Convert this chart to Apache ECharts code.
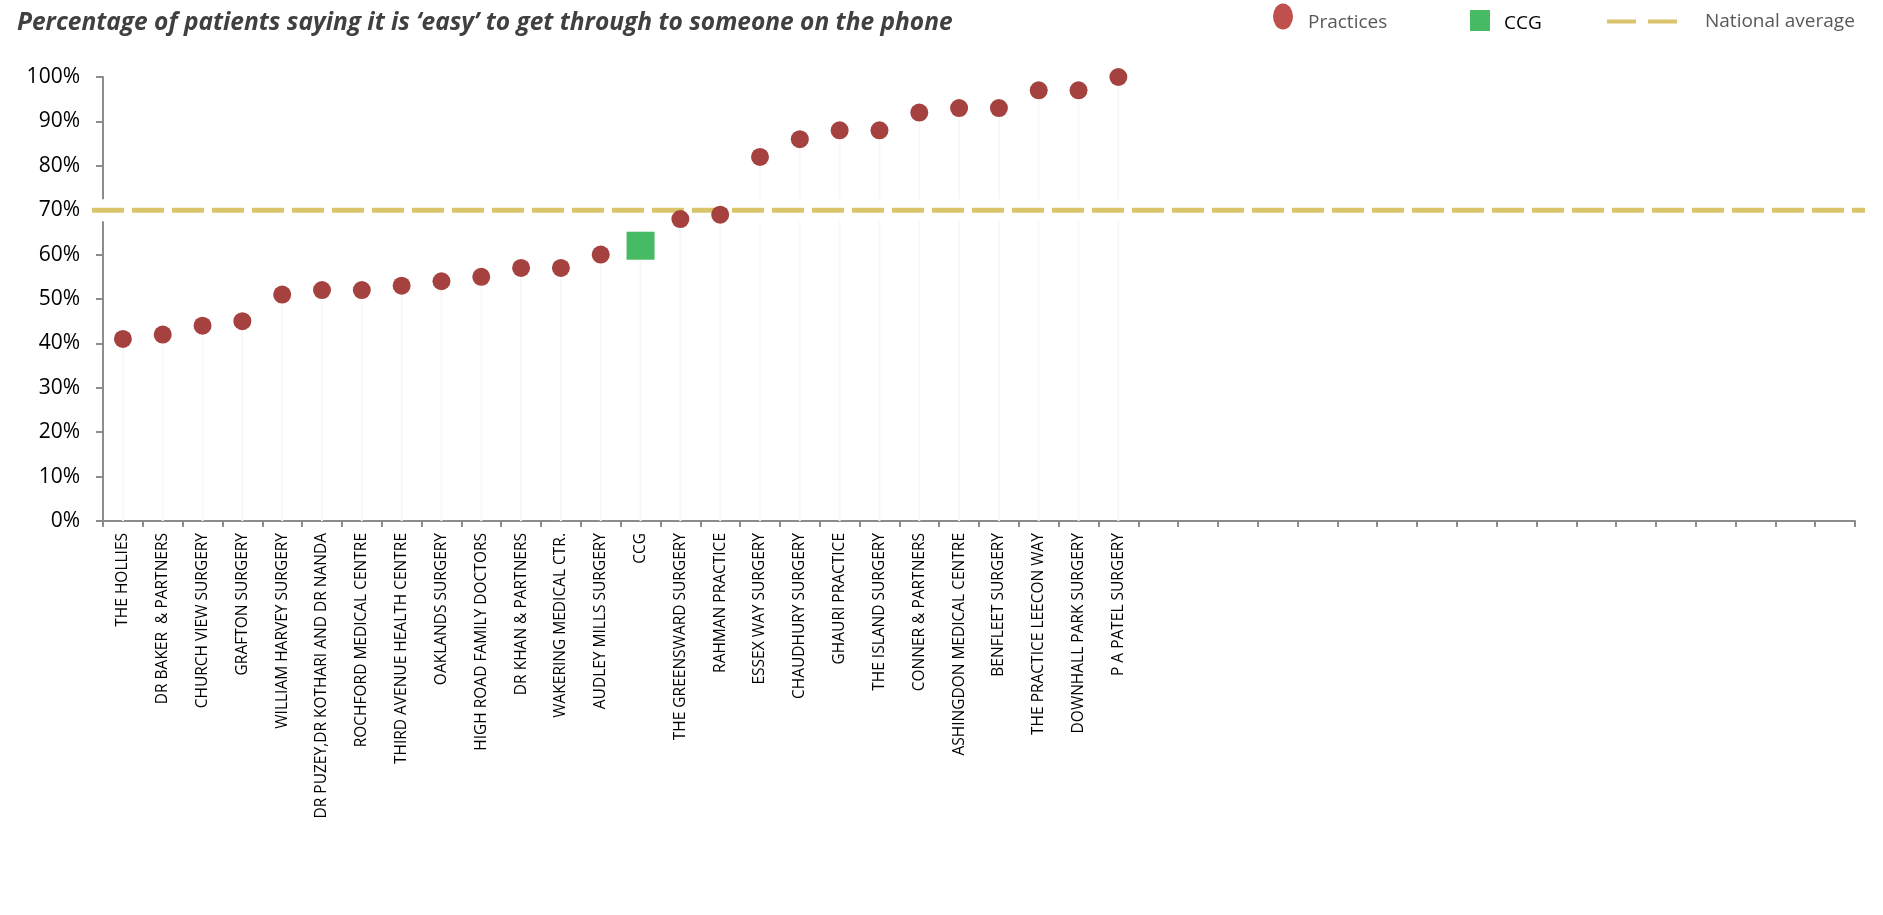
<!DOCTYPE html>
<html>
<head>
<meta charset="utf-8">
<script src="https://cdn.jsdelivr.net/npm/echarts@6/dist/echarts.min.js"></script>
<style>
  html, body { margin: 0; padding: 0; background: #fff; }
  #chart { width: 1883px; height: 915px; }
</style>
</head>
<body>
<div id="chart"></div>
<script>
const titleText = "Percentage of patients saying it is \u2018easy\u2019 to get through to someone on the phone";
const categories = [
  "THE HOLLIES", "DR BAKER  & PARTNERS", "CHURCH VIEW SURGERY", "GRAFTON SURGERY",
  "WILLIAM HARVEY SURGERY", "DR PUZEY,DR KOTHARI AND DR NANDA", "ROCHFORD MEDICAL CENTRE",
  "THIRD AVENUE HEALTH CENTRE", "OAKLANDS SURGERY", "HIGH ROAD FAMILY DOCTORS",
  "DR KHAN & PARTNERS", "WAKERING MEDICAL CTR.", "AUDLEY MILLS SURGERY", "CCG",
  "THE GREENSWARD SURGERY", "RAHMAN PRACTICE", "ESSEX WAY SURGERY", "CHAUDHURY SURGERY",
  "GHAURI PRACTICE", "THE ISLAND SURGERY", "CONNER & PARTNERS", "ASHINGDON MEDICAL CENTRE",
  "BENFLEET SURGERY", "THE PRACTICE LEECON WAY", "DOWNHALL PARK SURGERY", "P A PATEL SURGERY"
];
const values = [41, 42, 44, 45, 51, 52, 52, 53, 54, 55, 57, 57, 60, 62, 68, 69, 82, 86, 88, 88, 92, 93, 93, 97, 97, 100];
const ccgCategory = "CCG";
const emptySlots = 18;
const nationalAverage = 70;
const yTicks = { min: 0, max: 100, interval: 10 };

const allCats = categories.concat(Array.from({ length: emptySlots }, () => ""));
const practiceData = allCats.map((c, i) => (i < values.length && c !== ccgCategory) ? values[i] : null);
const ccgData = allCats.map((c, i) => (c === ccgCategory) ? values[i] : null);
const stemData = allCats.map((c, i) => i < values.length ? values[i] : null);

const FONT = "'Open Sans', 'Noto Sans', sans-serif";
const chart = echarts.init(document.getElementById('chart'), null, { renderer: 'canvas' });
const ellipsePath = 'path://M0,50 A50,50 0 1,1 100,50 A50,50 0 1,1 0,50 Z';
const dashIconPath = 'path://M0,0 H29 V4 H0 Z M41,0 H70 V4 H41 Z';

chart.setOption({
  backgroundColor: '#ffffff',
  animation: false,
  title: {
    text: titleText,
    left: 12,
    top: 6,
    textStyle: { fontFamily: FONT, fontSize: 24.5, fontWeight: 'bold', fontStyle: 'italic', color: '#404040' }
  },
  legend: [
    {
      data: [{ name: 'Practices', icon: ellipsePath, itemStyle: { color: '#C0504D' } }],
      left: 1273, top: 3.5, itemWidth: 20, itemHeight: 26, symbolKeepAspect: false, padding: 0,
      selectedMode: false,
      formatter: '{t|{name}}',
      textStyle: {
        rich: { t: { fontFamily: FONT, fontSize: 19, color: '#595959', lineHeight: 32, verticalAlign: 'bottom', padding: [0, 0, 0, 10] } }
      }
    },
    {
      data: [{ name: 'CCG', icon: 'rect', itemStyle: { color: '#46BB64' } }],
      left: 1470, top: 10, itemWidth: 20, itemHeight: 21, padding: 0, selectedMode: false,
      formatter: '{t|{name}}',
      textStyle: {
        rich: { t: { fontFamily: FONT, fontSize: 19, color: '#000000', lineHeight: 26, verticalAlign: 'bottom', padding: [0, 0, 0, 9] } }
      }
    },
    {
      data: [{ name: 'National average', icon: dashIconPath, itemStyle: { color: '#D9C46C' } }],
      left: 1607, top: 12, itemWidth: 70, itemHeight: 4, symbolKeepAspect: false, padding: 0,
      selectedMode: false,
      textStyle: { fontFamily: FONT, fontSize: 19, color: '#595959', padding: [2, 0, 0, 23] }
    }
  ],
  grid: [
    { left: 103, right: 28, top: 77, bottom: 394, containLabel: false },
    { left: 92, right: 18, top: 77, bottom: 394, containLabel: false }
  ],
  xAxis: [
    {
      type: 'category', gridIndex: 0, data: allCats, boundaryGap: true,
      axisLine: { lineStyle: { color: '#8C8C8C', width: 2 } },
      axisTick: { show: true, length: 6, lineStyle: { color: '#8C8C8C', width: 2 } },
      axisLabel: { interval: 0, rotate: 90, margin: 12, fontFamily: FONT, fontSize: 15.5, color: '#000000' },
      splitLine: { show: false }
    },
    { type: 'value', gridIndex: 1, min: 0, max: 1, show: false }
  ],
  yAxis: [
    {
      type: 'value', gridIndex: 0, min: yTicks.min, max: yTicks.max, interval: yTicks.interval,
      axisLine: { show: true, lineStyle: { color: '#8C8C8C', width: 2 } },
      axisTick: { show: true, length: 7, lineStyle: { color: '#8C8C8C', width: 2 } },
      axisLabel: { formatter: '{value}%', margin: 23, fontFamily: FONT, fontSize: 21, color: '#000000' },
      splitLine: { show: false }
    },
    { type: 'value', gridIndex: 1, min: yTicks.min, max: yTicks.max, show: false }
  ],
  series: [
    {
      name: 'stems', type: 'bar', xAxisIndex: 0, yAxisIndex: 0, data: stemData,
      barWidth: 2, itemStyle: { color: '#FAF8F5' }, z: 2, silent: true
    },
    {
      name: 'band', type: 'line', xAxisIndex: 1, yAxisIndex: 1,
      data: [[0, nationalAverage], [1, nationalAverage]], symbol: 'none',
      lineStyle: { color: '#ffffff', width: 22, cap: 'butt' }, z: 3, silent: true
    },
    {
      name: 'National average', type: 'line', xAxisIndex: 1, yAxisIndex: 1,
      data: [[0, nationalAverage], [1, nationalAverage]], symbol: 'none',
      lineStyle: { color: '#D9C46C', width: 5, type: [32, 8], cap: 'butt' }, z: 4, silent: true
    },
    {
      name: 'Practices', type: 'scatter', xAxisIndex: 0, yAxisIndex: 0, data: practiceData,
      symbol: 'circle', symbolSize: 18, itemStyle: { color: '#A5423F', opacity: 1 }, z: 5
    },
    {
      name: 'CCG', type: 'scatter', xAxisIndex: 0, yAxisIndex: 0, data: ccgData,
      symbol: 'rect', symbolSize: 28, itemStyle: { color: '#46BB64', opacity: 1 }, z: 5
    }
  ]
});
</script>
</body>
</html>
